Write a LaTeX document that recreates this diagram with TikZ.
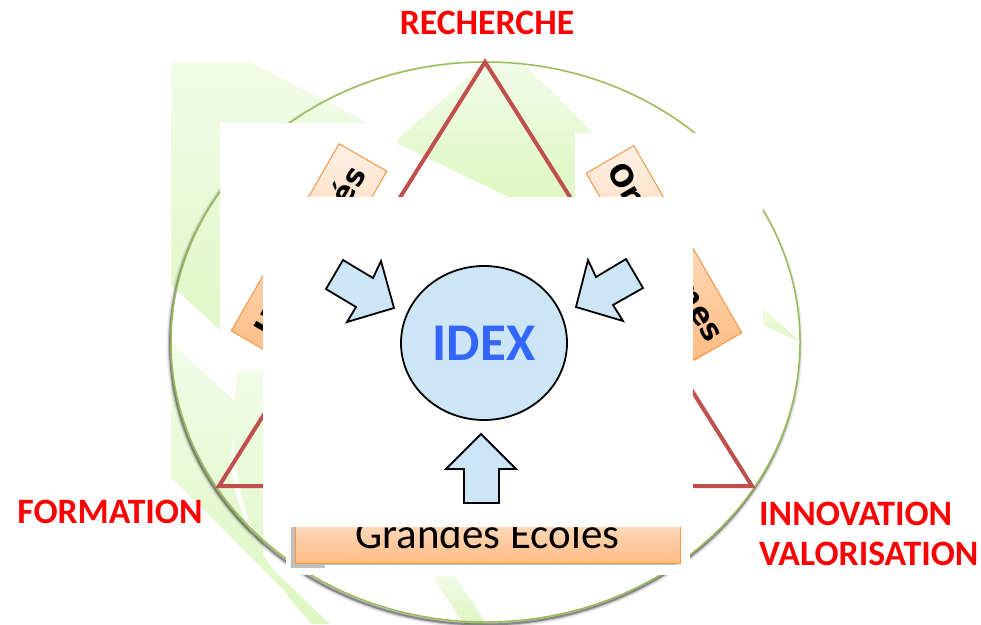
\documentclass[tikz,border=0pt]{standalone}
\usepackage{fontspec}
\setmainfont{Carlito}
\newfontfamily\boxfont{DejaVu Sans}
\usetikzlibrary{shapes.geometric}
\definecolor{grTop}{HTML}{F2FCE8}
\definecolor{grBot}{HTML}{DDF7C2}
\definecolor{circGreen}{HTML}{9BBB59}
\definecolor{triRed}{HTML}{C0504D}
\definecolor{orLight}{HTML}{FFF1E6}
\definecolor{orDark}{HTML}{FFBC82}
\definecolor{orBorder}{HTML}{F79646}
\definecolor{idexFill}{HTML}{CCE6F7}
\definecolor{idexText}{HTML}{3366FF}
\definecolor{lblRed}{HTML}{FF0000}
\tikzset{
  greenpatch/.style={top color=grTop, bottom color=grBot, draw=none},
  whitepatch/.style={fill=white, draw=none},
  lbl/.style={text=lblRed, font=\fontsize{35.7}{40}\selectfont\bfseries, inner sep=0pt},
  tiltbox/.style={draw=orBorder, line width=1pt, top color=orLight, bottom color=orDark,
    minimum width=216pt, minimum height=55pt, inner sep=0pt,
    font=\boxfont\bfseries\fontsize{30}{34}\selectfont},
  blockarrow/.style={fill=idexFill, draw=black, line width=1.8pt, line join=miter}
}
\begin{document}
\begin{tikzpicture}[x=1pt,y=-1pt]
\useasboundingbox (0,0) rectangle (981,624);
% ---------- pale green background shapes
\path[greenpatch] (171,62) -- (250,62) -- (398,139) -- (398,369) -- (263,369) -- (171,285) -- cycle;
\path[greenpatch] (485,62) -- (523,63) -- (600,140) -- (600,200) -- (515,200) -- (398,144) -- (398,139) -- cycle;
\path[greenpatch] (171,343) -- (245,410) .. controls (218,450) and (225,530) .. (320,624) -- (318,624) -- (171,477) -- cycle;
\path[greenpatch] (238,370) -- (263,370) -- (263,560) -- (330,624) -- (312,624) .. controls (250,560) and (222,470) .. (238,370) -- cycle;
\path[greenpatch] (432,576) -- (455,576) -- (487,624) -- (464,624) -- cycle;
\path[greenpatch] (763,307) -- (800,342) -- (763,325) -- cycle;
% ---------- circle with soft shadow
\begin{scope}[even odd rule]
  \clip (-10,-10) rectangle (990,640) (485.5,342) ellipse [x radius=314.5, y radius=280];
  \foreach \w/\o in {2/0.30,4/0.18,7/0.08}
    \draw[black, opacity=\o, line width=\w pt] (484.5,344.5) ellipse [x radius=314.5, y radius=280];
\end{scope}
\draw[circGreen, line width=1.5pt] (485.5,342) ellipse [x radius=314.5, y radius=280];
% ---------- red triangle
\coordinate (apex) at (485,62);
\coordinate (bl) at (219,486);
\coordinate (br) at (752,486);
\draw[triRed, line width=4pt] (apex) -- (br) -- (bl) -- cycle;
% ---------- white panels (back)
\path[whitepatch] (220,123) rectangle (398,370);
\path[whitepatch] (575,133) rectangle (763,386);
% ---------- tilted boxes
\node[tiltbox, rotate=60] (univ) at (309,251) {Universités};
\node[tiltbox, rotate=-60] (orga) at (664,253) {Organismes};
% ---------- Grandes Ecoles box
\path[whitepatch] (286,500) rectangle (690,575);
\path[fill=black, opacity=0.25] (291,505) rectangle (676,568);
\path[draw=orBorder, line width=1pt, top color=orLight, bottom color=orDark] (295,495) rectangle (680,563);
\node[anchor=base, inner sep=0pt, font=\fontsize{43}{46}\selectfont] (ge) at (487.5,548) {Grandes Ecoles};
\path[whitepatch] (325,564.5) rectangle (688,573);
% ---------- white panel (front)
\path[whitepatch] (263,197) rectangle (693,527);
% ---------- IDEX and arrows
\node[ellipse, fill=idexFill, draw=black, line width=1.8pt, minimum width=166pt, minimum height=154pt, inner sep=0pt,
  text=idexText, font=\fontsize{53}{58}\selectfont\bfseries] (idex) at (484,343) {IDEX};
\draw[blockarrow] (343,260) -- (373,278) -- (381,261) -- (394,308) -- (347,322) -- (356,307) -- (326,289) -- cycle;
\draw[blockarrow] (626,259) -- (596,277) -- (588,260) -- (576,307) -- (623,321) -- (613,305) -- (643,288) -- cycle;
\draw[blockarrow] (481,434) -- (516,469) -- (499,469) -- (499,503) -- (464,503) -- (464,469) -- (446,469) -- cycle;
% ---------- labels
\node[lbl, anchor=base] (rech) at (487,34) {RECHERCHE};
\node[lbl, anchor=base] (form) at (110,523) {FORMATION};
\node[lbl, anchor=base west] (innov) at (759,525) {INNOVATION};
\node[lbl, anchor=base west] (valo) at (759,565) {VALORISATION};
\end{tikzpicture}
\end{document}
